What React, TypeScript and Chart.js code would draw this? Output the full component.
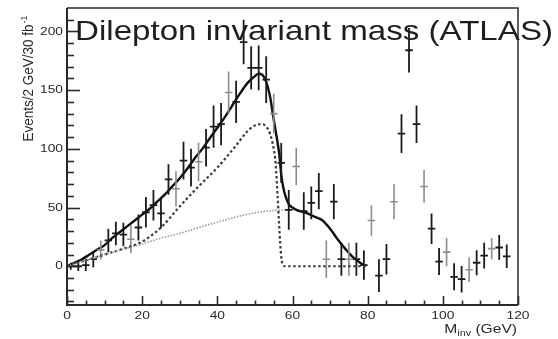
import React, { useEffect, useRef } from "react";
import { Chart, registerables } from "chart.js";

Chart.register(...registerables);

const W = 558;
const H = 339;

// ---- data: black data points (bin centre, value, error) ----
const blackX = [1, 3, 5, 7, 11, 13, 15, 19, 21, 23, 25, 27, 31, 33, 37, 39, 41, 45, 47, 49, 51, 53, 57, 59, 63, 65, 67, 71, 73, 77, 79, 83, 85, 89, 91, 93, 97, 99, 103, 105, 109, 111, 115, 117];
const blackY = [0, 0, 1, 6, 22, 28, 27, 33, 46, 52, 45, 74, 90, 84, 101, 119, 121, 140, 191, 169, 169, 159, 88, 48, 47, 54, 64, 55, 6, 6, 1, -8, 6, 113, 184, 121, 32, 4, -9, -11, 3, 9, 16, 8.5];
const blackErr = [3, 4, 5, 7, 10, 10, 10, 11, 13, 13, 12.5, 13, 16, 16, 16, 18, 18, 18, 19, 18.5, 19, 20, 17, 17, 16, 14, 15.5, 15, 14, 14, 12.5, 14, 13, 16.5, 19, 16, 13, 11.5, 11.5, 11.3, 10.6, 11, 10.6, 10];

// ---- data: grey data points ----
const grayX = [9, 17, 29, 35, 43, 55, 61, 69, 75, 81, 87, 95, 101, 107, 113];
const grayY = [14, 23, 66, 89, 148, 130, 85, 6, 6, 39, 55, 68, 12, -3, 15];
const grayErr = [8, 12, 15, 16.5, 18, 17, 16, 16, 14, 13, 15, 14, 12, 10.5, 9];

const binHalfWidth = 1;

// ---- fitted curves ----
const totalX = [0, 2, 4, 6, 8, 10, 12, 14, 16, 18, 20, 22, 24, 26, 28, 30, 32, 34, 36, 38, 40, 42, 44, 46, 48, 50, 51, 52, 53, 54, 55, 56, 56.5, 57, 57.5, 58, 59, 60, 61, 62, 64, 66, 68, 70, 72, 74, 76, 78, 79.5];
const totalY = [0, 3, 6, 10, 14, 18, 24, 29, 34, 39, 44, 49, 55, 61, 68, 75, 83, 92, 100, 109, 118, 127, 137, 147, 156, 162, 164, 163, 157, 145, 125, 106, 95, 78, 68, 61, 53, 50, 48, 47, 45, 42, 39, 32, 23, 15, 8, 3, 0];

const signalX = [0, 5, 10, 15, 20, 25, 30, 35, 40, 45, 48, 50, 52, 53, 54, 55, 55.5, 56, 56.5, 57, 57.5, 58, 60, 70, 79.5];
const signalY = [0, 5, 10, 15, 21, 33, 51, 68, 84, 103, 115, 120, 121, 119, 113, 100, 88, 62, 32, 8, 1, 0, 0, 0, 0];

const bkgX = [0, 5, 10, 15, 20, 25, 30, 35, 40, 45, 50, 55, 58];
const bkgY = [0, 5, 10, 14.5, 19, 24, 28, 33, 37.5, 42, 45.5, 47.5, 48];

// ---- axes / labels ----
const xTickLabels = [0, 20, 40, 60, 80, 100, 120];
const yTickLabels = [0, 50, 100, 150, 200];
const xMin = 0, xMax = 120, yMin = -33, yMax = 220;
const titleText = "Dilepton invariant mass (ATLAS)";
const yTitleMain = "Events/2 GeV/30 fb";
const yTitleSup = "-1";
const xTitleMain = "M";
const xTitleSub = "inv";
const xTitleUnit = " (GeV)";

function crosses(xs: number[], ys: number[], es: number[]) {
  const pts: { x: number; y: number | null }[] = [];
  xs.forEach((x, i) => {
    pts.push({ x: x - binHalfWidth, y: ys[i] });
    pts.push({ x: x + binHalfWidth, y: ys[i] });
    pts.push({ x: x, y: null });
    pts.push({ x: x, y: ys[i] - es[i] });
    pts.push({ x: x, y: ys[i] + es[i] });
    pts.push({ x: x, y: null });
  });
  return pts;
}

function curve(xs: number[], ys: number[]) {
  return xs.map((x, i) => ({ x, y: ys[i] }));
}

const FONT = '"Liberation Sans", Arial, Helvetica, sans-serif';

function stretched(ctx: CanvasRenderingContext2D, text: string, x: number, y: number, size: number, sx: number, align: CanvasTextAlign, baseline: CanvasTextBaseline) {
  ctx.save();
  ctx.font = `${size}px ${FONT}`;
  ctx.translate(x, y);
  ctx.scale(sx, 1);
  ctx.textAlign = align;
  ctx.textBaseline = baseline;
  ctx.fillText(text, 0, 0);
  ctx.restore();
}

const decor = {
  id: "decor",
  afterDatasetsDraw(chart: any) {
    const ctx: CanvasRenderingContext2D = chart.ctx;
    const { left, right, top, bottom } = chart.chartArea;
    const xs = chart.scales.x;
    const ys = chart.scales.y;
    ctx.save();
    ctx.strokeStyle = "#2a2a2a";
    // frame
    ctx.lineWidth = 1.5;
    ctx.beginPath();
    ctx.moveTo(left, top);
    ctx.lineTo(right, top);
    ctx.lineTo(right, bottom);
    ctx.stroke();
    ctx.lineWidth = 2;
    ctx.beginPath();
    ctx.moveTo(left, top);
    ctx.lineTo(left, bottom);
    ctx.lineTo(right, bottom);
    ctx.stroke();
    // y ticks (inward)
    ctx.lineWidth = 1.6;
    for (let v = -30; v <= 210; v += 10) {
      const py = Math.round(ys.getPixelForValue(v)) + 0.5;
      const len = v % 50 === 0 ? 13 : 7;
      ctx.beginPath();
      ctx.moveTo(left, py);
      ctx.lineTo(left + len, py);
      ctx.stroke();
    }
    // x ticks (inward)
    for (let v = 0; v <= 120; v += 5) {
      const px = Math.round(xs.getPixelForValue(v)) + 0.5;
      const len = v % 20 === 0 ? 9 : 4.5;
      ctx.beginPath();
      ctx.moveTo(px, bottom);
      ctx.lineTo(px, bottom - len);
      ctx.stroke();
    }
    ctx.fillStyle = "#2a2a2a";
    // tick labels
    yTickLabels.forEach((v) => {
      stretched(ctx, String(v), left - 4, ys.getPixelForValue(v), 11.5, 1.2, "right", "middle");
    });
    xTickLabels.forEach((v) => {
      stretched(ctx, String(v), xs.getPixelForValue(v), bottom + 11, 11.5, 1.2, "center", "middle");
    });
    // x title
    ctx.font = `13px ${FONT}`;
    const sx = 1.2;
    const wM = ctx.measureText(xTitleMain).width * sx;
    const wU = ctx.measureText(xTitleUnit).width * sx;
    ctx.font = `9px ${FONT}`;
    const wS = ctx.measureText(xTitleSub).width * sx;
    const xEnd = right - 1;
    const x0 = xEnd - wM - wS - wU;
    stretched(ctx, xTitleMain, x0, 333, 13, sx, "left", "alphabetic");
    stretched(ctx, xTitleSub, x0 + wM, 336, 9, sx, "left", "alphabetic");
    stretched(ctx, xTitleUnit, x0 + wM + wS, 333, 13, sx, "left", "alphabetic");
    // y title (rotated)
    ctx.save();
    ctx.translate(28.5, 141.5);
    ctx.scale(1.15, 1);
    ctx.rotate(-Math.PI / 2);
    ctx.font = `13.5px ${FONT}`;
    ctx.textAlign = "left";
    ctx.textBaseline = "middle";
    ctx.fillText(yTitleMain, 0, 0);
    const wy = ctx.measureText(yTitleMain).width;
    ctx.font = `8.5px ${FONT}`;
    ctx.fillText(yTitleSup, wy + 1, -4);
    ctx.restore();
    // title
    ctx.font = `28px ${FONT}`;
    const wt = ctx.measureText(titleText).width;
    const tsx = 478 / wt;
    ctx.fillStyle = "#1e1e1e";
    stretched(ctx, titleText, 75, 40, 28, tsx, "left", "alphabetic");
    ctx.restore();
  },
};

export default function App() {
  const ref = useRef<HTMLCanvasElement>(null);
  useEffect(() => {
    const canvas = ref.current;
    if (!canvas) return;
    const chart = new Chart(canvas, {
      type: "line",
      data: {
        datasets: [
          {
            label: "background",
            data: curve(bkgX, bkgY),
            borderColor: "#9a9a9a",
            borderWidth: 1.6,
            borderDash: [1.5, 1.5],
            pointRadius: 0,
            cubicInterpolationMode: "monotone",
            fill: false,
          },
          {
            label: "signal",
            data: curve(signalX, signalY),
            borderColor: "#3a3a3a",
            borderWidth: 2.2,
            borderDash: [2.5, 2.5],
            pointRadius: 0,
            cubicInterpolationMode: "monotone",
            fill: false,
          },
          {
            label: "grey data",
            data: crosses(grayX, grayY, grayErr),
            borderColor: "#8c8c8c",
            borderWidth: 1.6,
            pointRadius: 0,
            tension: 0,
            spanGaps: false,
            fill: false,
          },
          {
            label: "data",
            data: crosses(blackX, blackY, blackErr),
            borderColor: "#1a1a1a",
            borderWidth: 1.8,
            pointRadius: 0,
            tension: 0,
            spanGaps: false,
            fill: false,
          },
          {
            label: "total",
            data: curve(totalX, totalY),
            borderColor: "#111111",
            borderWidth: 2.4,
            pointRadius: 0,
            cubicInterpolationMode: "monotone",
            fill: false,
          },
        ],
      } as any,
      options: {
        responsive: false,
        animation: false,
        devicePixelRatio: 1,
        layout: { padding: { left: 67, top: 8, right: 40, bottom: 34 } },
        scales: {
          x: { type: "linear", min: xMin, max: xMax, display: false },
          y: { type: "linear", min: yMin, max: yMax, display: false },
        },
        plugins: { legend: { display: false }, tooltip: { enabled: false }, title: { display: false } },
        elements: { point: { radius: 0 } },
      } as any,
      plugins: [decor as any],
    });
    return () => chart.destroy();
  }, []);
  return (
    <div style={{ position: "fixed", left: 0, top: 0, width: W, height: H, background: "#fff" }}>
      <canvas ref={ref} width={W} height={H} style={{ width: W, height: H, display: "block" }} />
    </div>
  );
}
